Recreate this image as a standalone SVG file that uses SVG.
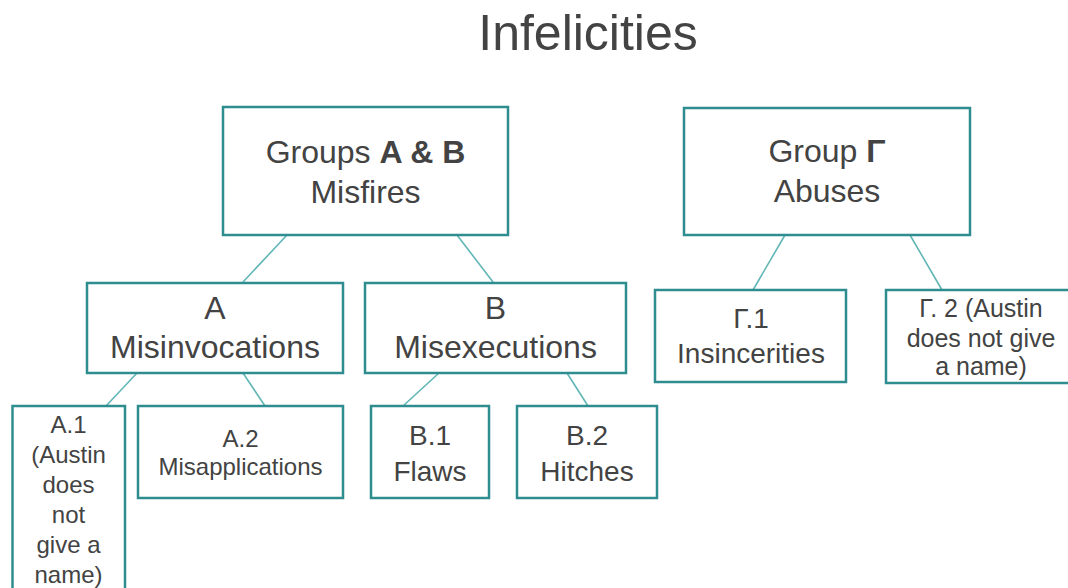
<svg xmlns="http://www.w3.org/2000/svg" width="1068" height="588" viewBox="0 0 1068 588">
<style>
text{font-family:"Liberation Sans",Arial,sans-serif;fill:#434343;text-anchor:middle}
.box{fill:#fff;stroke:#2f8d8f;stroke-width:2.5}
.con{stroke:#62b6b6;stroke-width:1.6;fill:none}
.t32{font-size:32px}
.t28{font-size:28px}
.t25{font-size:25px}
.t24{font-size:24px}
.b{font-weight:bold}
</style>
<rect width="1068" height="588" fill="#fff"/>
<text x="588" y="50" style="font-size:50px">Infelicities</text>
<g id="connectors">
<line class="con" x1="287" y1="235" x2="243" y2="282"/>
<line class="con" x1="457" y1="235" x2="493" y2="282"/>
<line class="con" x1="137" y1="373" x2="106" y2="406"/>
<line class="con" x1="243" y1="373" x2="265" y2="406"/>
<line class="con" x1="439" y1="373" x2="403" y2="406"/>
<line class="con" x1="567" y1="373" x2="588" y2="406"/>
<line class="con" x1="785" y1="235" x2="753" y2="290"/>
<line class="con" x1="910" y1="235" x2="942" y2="290"/>
</g>
<g id="groupAB">
<rect class="box" x="223" y="107" width="285" height="128"/>
<text class="t32" x="365.5" y="163">Groups <tspan class="b">A &amp; B</tspan></text>
<text class="t32" x="365.5" y="203">Misfires</text>
</g>
<g id="groupG">
<rect class="box" x="684" y="108" width="286" height="127"/>
<text class="t32" x="827" y="162">Group <tspan class="b">Γ</tspan></text>
<text class="t32" x="827" y="202">Abuses</text>
</g>
<g id="A">
<rect class="box" x="87" y="283" width="256" height="90"/>
<text class="t32" x="215" y="319">A</text>
<text class="t32" x="215" y="358">Misinvocations</text>
</g>
<g id="B">
<rect class="box" x="365" y="283" width="261" height="90"/>
<text class="t32" x="495.5" y="319">B</text>
<text class="t32" x="495.5" y="358">Misexecutions</text>
</g>
<g id="A1">
<rect class="box" x="12.5" y="406" width="112.5" height="200"/>
<text class="t24" x="68.5" y="433">A.1</text>
<text class="t24" x="68.5" y="463">(Austin</text>
<text class="t24" x="68.5" y="493">does</text>
<text class="t24" x="68.5" y="523">not</text>
<text class="t24" x="68.5" y="553">give a</text>
<text class="t24" x="68.5" y="583">name)</text>
</g>
<g id="A2">
<rect class="box" x="138" y="406" width="205" height="92"/>
<text class="t24" x="240.5" y="447">A.2</text>
<text class="t24" x="240.5" y="475">Misapplications</text>
</g>
<g id="B1">
<rect class="box" x="371" y="406" width="118" height="92"/>
<text class="t28" x="430" y="445">B.1</text>
<text class="t28" x="430" y="481">Flaws</text>
</g>
<g id="B2">
<rect class="box" x="517" y="406" width="140" height="92"/>
<text class="t28" x="587" y="445">B.2</text>
<text class="t28" x="587" y="481">Hitches</text>
</g>
<g id="G1">
<rect class="box" x="655" y="290" width="191" height="92"/>
<text class="t28" x="751" y="328">Γ.1</text>
<text class="t28" x="751" y="363">Insincerities</text>
</g>
<g id="G2">
<rect class="box" x="886" y="290" width="190" height="93"/>
<text class="t25" x="981" y="317">Γ. 2 (Austin</text>
<text class="t25" x="981" y="347">does not give</text>
<text class="t25" x="981" y="375">a name)</text>
</g>
</svg>
